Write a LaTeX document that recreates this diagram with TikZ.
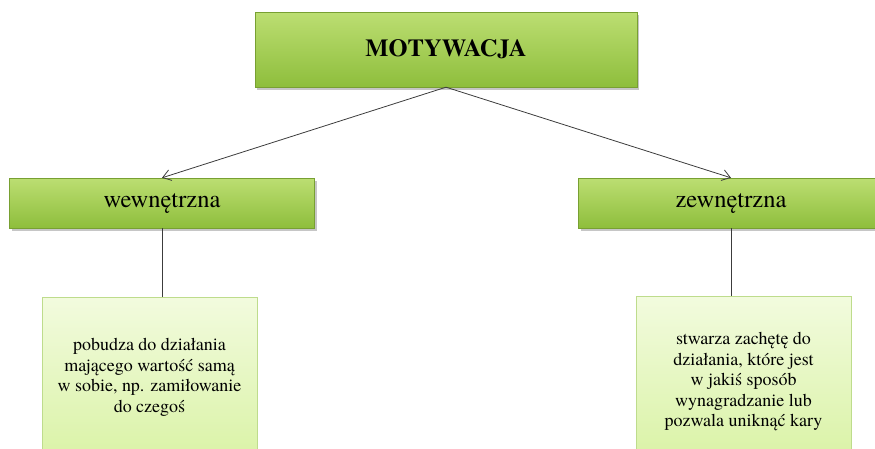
\documentclass[tikz,border=0pt]{standalone}
\usepackage{fontspec}
\setmainfont{texgyretermes}[Extension=.otf, UprightFont=*-regular, BoldFont=*-bold, ItalicFont=*-italic, BoldItalicFont=*-bolditalic]
\usepackage{tikz}
\usetikzlibrary{arrows.meta, positioning, shadows, calc}

\definecolor{grTop}{RGB}{188,222,114}
\definecolor{grBot}{RGB}{142,190,60}
\definecolor{grEdge}{RGB}{120,160,50}
\definecolor{ltTop}{RGB}{242,251,222}
\definecolor{ltBot}{RGB}{216,242,162}
\definecolor{ltEdge}{RGB}{190,220,140}
\definecolor{lineCol}{RGB}{60,60,60}

\begin{document}
\begin{tikzpicture}[
    x=1pt, y=-1pt,
    head/.style={
        rectangle, draw=grEdge, line width=0.4pt,
        top color=grTop, bottom color=grBot,
        drop shadow={shadow xshift=2pt, shadow yshift=-3pt, opacity=0.45},
        minimum width=382pt, minimum height=75pt,
        font=\fontsize{24.5}{28}\selectfont\bfseries
    },
    kind/.style={
        rectangle, draw=grEdge, line width=0.4pt,
        top color=grTop, bottom color=grBot,
        drop shadow={shadow xshift=2pt, shadow yshift=-3pt, opacity=0.45},
        minimum width=305pt, minimum height=50pt,
        font=\fontsize{24.5}{28}\selectfont
    },
    desc/.style={
        rectangle, draw=ltEdge, line width=0.6pt,
        top color=ltTop, bottom color=ltBot,
        minimum width=215pt, minimum height=175pt, anchor=north
    },
    descText/.style={
        inner sep=0pt, align=center, font=\fontsize{18}{20.5}\selectfont
    },
    arr/.style={-{Straight Barb[length=8pt, width=11pt]}, draw=lineCol, line width=0.8pt},
    conn/.style={draw=lineCol, line width=0.8pt},
]

% Page frame
\useasboundingbox (0,0) rectangle (875,448);
\clip (0,0) rectangle (875,448);

% Main box
\node[head] (motyw) at (446,49.5) {MOTYWACJA};

% Two kinds
\node[kind] (wewn) at (162,203) {wewnętrzna};
\node[kind] (zewn) at (731,203) {zewnętrzna};

% Descriptions (boxes run past the bottom edge)
\node[desc] (wewnDesc) at (149.5,297) {};
\node[desc] (zewnDesc) at (743.5,296) {};
\node[descText, below=41pt of wewnDesc.north] (wewnText) {pobudza do działania\\mającego wartość samą\\w sobie, np. zamiłowanie\\do czegoś};
\node[descText, below=36pt of zewnDesc.north] (zewnText) {stwarza zachętę do\\działania, które jest\\w jakiś sposób\\wynagradzanie lub\\pozwala uniknąć kary};

% Arrows from main box
\draw[arr] (motyw.south) -- (wewn.north);
\draw[arr] (motyw.south) -- (zewn.north);

% Plain links down
\draw[conn] (wewn.south) -- (wewn.south |- wewnDesc.north);
\draw[conn] (zewn.south) -- (zewn.south |- zewnDesc.north);

\end{tikzpicture}
\end{document}
